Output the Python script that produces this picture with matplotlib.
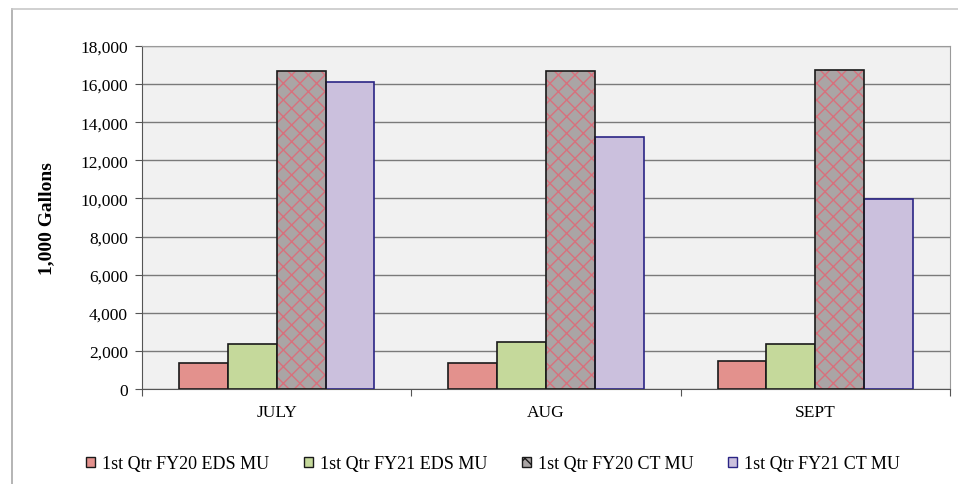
import matplotlib.pyplot as plt
import numpy as np
from matplotlib.lines import Line2D
from matplotlib.patches import Rectangle

plt.rcParams["font.family"] = ["Liberation Serif", "DejaVu Serif"]

months = ["JULY", "AUG", "SEPT"]
series_names = [
    "1st Qtr FY20 EDS MU",
    "1st Qtr FY21 EDS MU",
    "1st Qtr FY20 CT MU",
    "1st Qtr FY21 CT MU",
]
fy20_eds = [1350, 1350, 1450]
fy21_eds = [2350, 2450, 2350]
fy20_ct = [16700, 16700, 16750]
fy21_ct = [16100, 13250, 9950]

faces = ["#e3918d", "#c5d99b", "#aaa5a5", "#cbc0dd"]
edges = ["#1a1a1a", "#1a1a1a", "#1a1a1a", "#2b2585"]
hatch_col = "#d8707c"

fig = plt.figure(figsize=(9.58, 4.85), dpi=100)
ax = fig.add_axes([0.1482, 0.1959, 0.9916 - 0.1482, 0.9031 - 0.1959])
ax.set_facecolor("#f1f1f1")

x = np.arange(len(months))
w = 0.1815
for i, vals in enumerate([fy20_eds, fy21_eds, fy20_ct, fy21_ct]):
    pos = x + (i - 1.5) * w
    if i == 2:
        # gray fill with pink crosshatch, outline drawn separately
        ax.bar(pos, vals, w, color=faces[i], edgecolor=hatch_col, hatch="xx",
               linewidth=0, zorder=3)
        ax.bar(pos, vals, w, fill=False, edgecolor=edges[i], linewidth=1.2,
               zorder=4)
    else:
        ax.bar(pos, vals, w, color=faces[i], edgecolor=edges[i], linewidth=1.2,
               zorder=3)

ax.set_ylim(0, 18000)
ax.set_xlim(-0.5, 2.5)
ax.set_yticks(np.arange(0, 18001, 2000))
ax.set_yticklabels([f"{v:,}" for v in range(0, 18001, 2000)], fontsize=12.5)
ax.yaxis.grid(True, color="#7a7a7a", linewidth=1.0, zorder=1)
ax.set_axisbelow(True)

ax.set_xticks([-0.5, 0.5, 1.5, 2.5])
ax.set_xticklabels([])
ax.set_xticks(x, minor=True)
ax.set_xticklabels(months, minor=True, fontsize=12.5)
ax.tick_params(axis="x", which="minor", length=0, pad=11)
ax.tick_params(axis="x", which="major", length=5, color="#555555")
ax.tick_params(axis="y", length=5, color="#555555", pad=5)

for side in ["top", "right"]:
    ax.spines[side].set_color("#9a9a9a")
for side in ["left", "bottom"]:
    ax.spines[side].set_color("#555555")

ax.set_ylabel("1,000 Gallons", fontsize=14, fontweight="bold", labelpad=18)

# outer chart frame
fig.add_artist(Line2D([12 / 958, 12 / 958], [0, 1 - 10 / 485],
                      color="#a8a8a8", linewidth=1.2, transform=fig.transFigure))
fig.add_artist(Line2D([12 / 958, 1], [1 - 10 / 485, 1 - 10 / 485],
                      color="#c8c8c8", linewidth=1.2, transform=fig.transFigure))

handles = []
for i in range(4):
    h = Rectangle((0, 0), 1, 1, facecolor=faces[i], edgecolor=edges[i],
                  linewidth=1.0)
    if i == 2:
        h.set_hatch("xx")
    handles.append(h)
fig.legend(handles, series_names, loc="center", bbox_to_anchor=(0.5146, 0.042),
           ncol=4, frameon=False, fontsize=13, handlelength=0.5,
           handleheight=0.5, handletextpad=0.4, columnspacing=1.9)

fig.savefig("out.png", dpi=100)
